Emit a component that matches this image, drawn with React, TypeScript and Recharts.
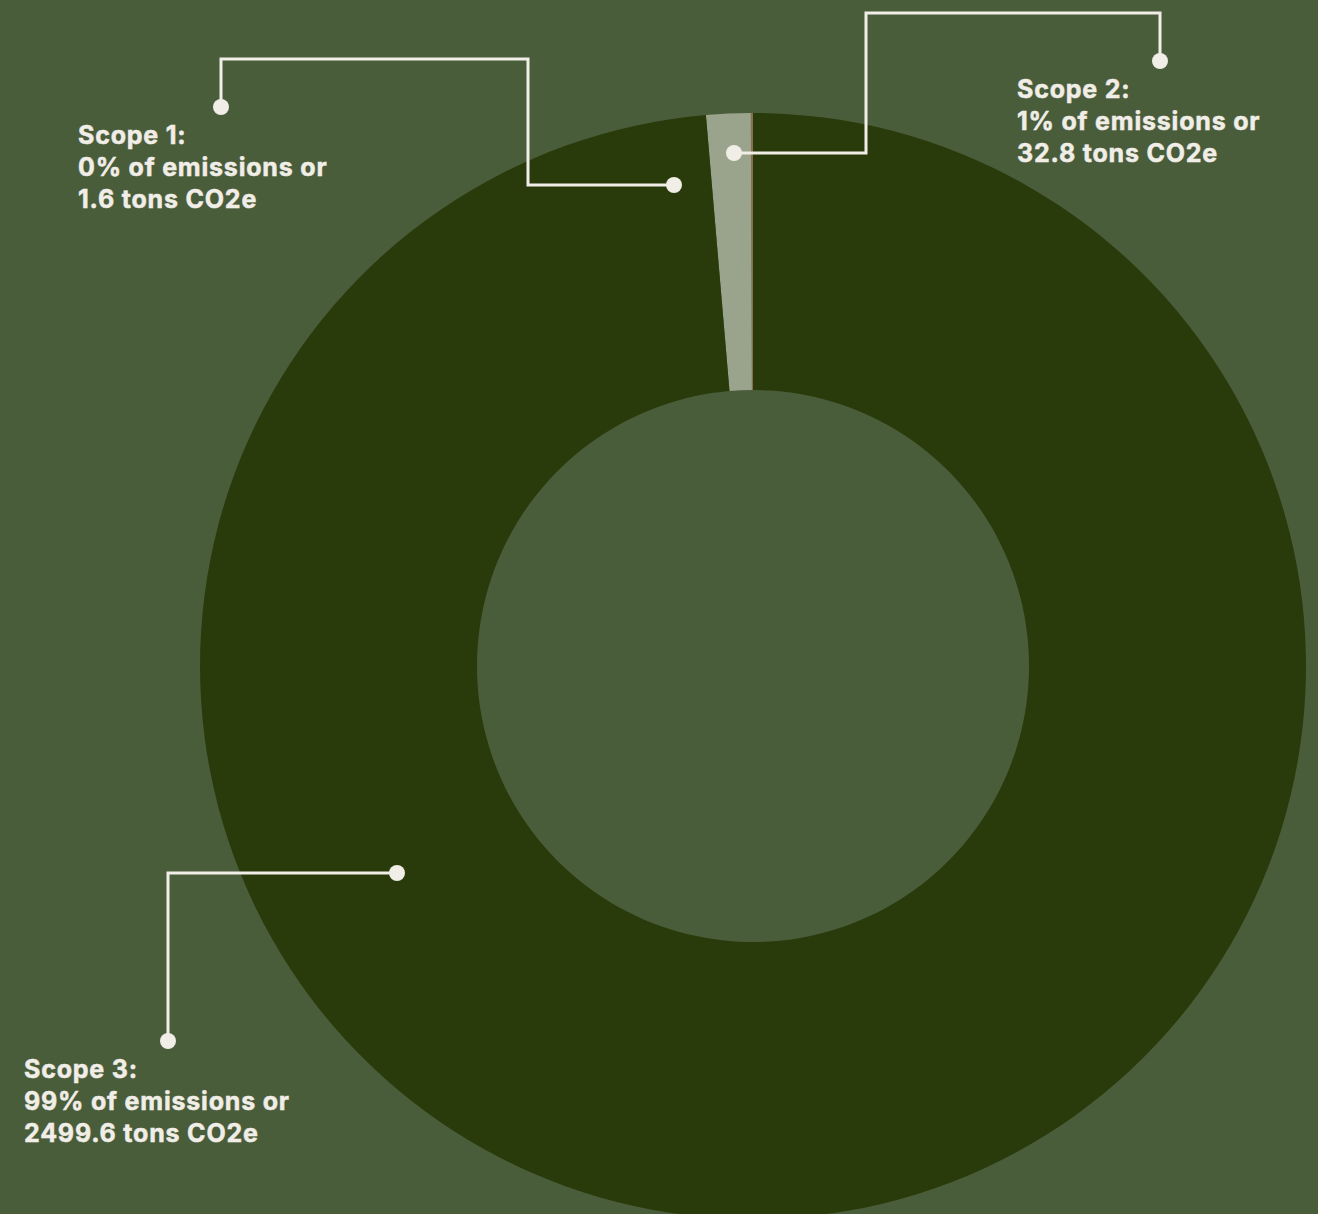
import React from "react";
import { PieChart, Pie, Cell } from "recharts";

const scopeNames = ["Scope 1", "Scope 2", "Scope 3"];
const tonsCO2e = [1.6, 32.8, 2499.6];
const percentLabels = ["0%", "1%", "99%"];
const sliceColors = ["#8c6d4c", "#9aa48c", "#2a3b0b"];

const data = scopeNames.map((name, i) => ({ name, value: tonsCO2e[i], pct: percentLabels[i] }));

const BG = "#4a5d3b";
const INK = "#f1eee8";

// leader layout relative to pie center: polyline points and text anchor
const leaders = [
  { pts: [[-79, -481], [-225, -481], [-225, -607], [-532, -607], [-532, -559]], text: [-675, -522] },
  { pts: [[-19, -513], [113, -513], [113, -653], [407, -653], [407, -605]], text: [264, -568] },
  { pts: [[-356, 207], [-585, 207], [-585, 375]], text: [-729, 412] },
];

const renderLabel = (props: any) => {
  const { cx, cy, index } = props;
  const l = leaders[index];
  if (!l) return null;
  const d = l.pts.map((p, i) => `${i === 0 ? "M" : "L"}${cx + p[0]},${cy + p[1]}`).join(" ");
  const first = l.pts[0];
  const last = l.pts[l.pts.length - 1];
  const tx = cx + l.text[0];
  const ty = cy + l.text[1];
  const d0 = data[index];
  const lines = [`${d0.name}:`, `${d0.pct} of emissions or`, `${d0.value} tons CO2e`];
  return (
    <g key={`lbl-${index}`}>
      <path d={d} fill="none" stroke={INK} strokeWidth={3} />
      <circle cx={cx + first[0]} cy={cy + first[1]} r={8} fill={INK} />
      <circle cx={cx + last[0]} cy={cy + last[1]} r={8} fill={INK} />
      <text
        x={tx}
        y={ty}
        fill={INK}
        stroke={INK}
        strokeWidth={0.5}
        fontFamily="Inter, 'Noto Sans', sans-serif"
        fontWeight={700}
        fontSize={25}
        letterSpacing={0.8}
      >
        {lines.map((t, i) => (
          <tspan key={i} x={tx} y={ty + i * 32}>
            {t}
          </tspan>
        ))}
      </text>
    </g>
  );
};

export default function App() {
  return (
    <div style={{ position: "absolute", left: 0, top: 0, width: 1318, height: 1214, background: BG, overflow: "hidden" }}>
      <PieChart width={1318} height={1214} margin={{ top: 0, right: 0, bottom: 0, left: 0 }}>
        <Pie
          data={data}
          dataKey="value"
          nameKey="name"
          cx={753}
          cy={666}
          innerRadius={276}
          outerRadius={553}
          startAngle={90}
          endAngle={450}
          stroke="none"
          isAnimationActive={false}
          label={renderLabel}
          labelLine={false}
        >
          {data.map((_, i) => (
            <Cell key={i} fill={sliceColors[i]} stroke="none" />
          ))}
        </Pie>
      </PieChart>
    </div>
  );
}
